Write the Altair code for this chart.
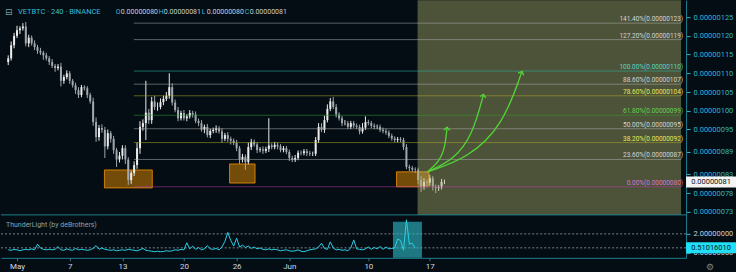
import altair as alt
import pandas as pd

# ---------------- data (prices in units of 1e-8 BTC) ----------------
close = [114, 117.5, 120, 121.5, 122, 122.5, 118, 119.5, 118, 117,
         116, 115.5, 114.8, 114, 113, 112, 111.4, 111.8, 108, 109,
         110, 108, 106.8, 105.5, 104.2, 106.3, 106, 104.2, 102.5, 97,
         93, 95.4, 94.9, 90.5, 94, 92.5, 89.5, 87, 88, 90,
         87, 81.5, 83.4, 85.5, 90, 95.7, 96.7, 99.5, 97.5, 102.5,
         101, 101, 102.3, 103.2, 104, 106.3, 102.2, 100.2, 98, 99.4,
         98, 98.5, 99.4, 99, 97.3, 96.7, 95, 95.7, 93.5, 94.6,
         94.9, 95.3, 94.5, 92.5, 93.5, 92.5, 92, 91.4, 90, 87,
         87.7, 86.3, 90.3, 91.7, 91, 89.5, 89.7, 89.3, 89.8, 90.7,
         90.3, 90.9, 90.5, 89.5, 90, 89, 87.4, 86.9, 87.4, 88.8,
         88.7, 89.2, 88.7, 88.5, 88.5, 92.2, 95.7, 94.9, 97.5, 100.5,
         102.5, 101, 99, 98, 96.7, 96.7, 95.7, 96.7, 96, 95.7,
         94.5, 95.5, 97, 96.7, 96, 95.7, 95.7, 94.9, 94.6, 94.2,
         93.3, 92.6, 92.2, 92.4, 92.2, 90.3, 85, 84.7, 84.3, 84.2,
         81.5, 79.7, 81, 80.8, 82, 79.7, 79.4, 79.6, 81, 81]
hi_wick = [0.8, 1.0, 0.8, 1.2, 0.6, 0.9, 1.2, 0.8, 0.6, 0.8,
           0.6, 0.8, 0.5, 0.7, 0.6, 0.8, 0.5, 0.7, 1.0, 0.6,
           0.8, 0.6, 0.5, 0.7, 0.8, 0.6, 0.5, 0.6, 0.6, 1.0,
           1.2, 0.8, 1.0, 0.8, 1.0, 0.6, 0.8, 0.6, 1.0, 0.8,
           0.8, 0.6, 0.6, 1.0, 1.5, 1.5, 1.0, 8.5, 1.0, 1.2,
           1.5, 1.2, 1.0, 0.8, 1.0, 3.7, 1.0, 0.8, 0.8, 0.6,
           0.8, 0.6, 0.8, 0.6, 0.8, 0.6, 0.8, 0.6, 0.8, 0.6,
           0.6, 0.8, 0.6, 0.8, 0.6, 0.8, 0.6, 0.6, 0.8, 0.6,
           0.8, 0.6, 1.2, 0.8, 0.6, 0.6, 0.6, 0.8, 0.6, 7.3,
           0.6, 0.8, 0.6, 0.6, 0.6, 0.6, 0.6, 0.6, 0.8, 0.6,
           0.6, 0.6, 0.6, 0.6, 0.6, 0.8, 1.0, 1.0, 1.2, 1.2,
           0.9, 1.2, 0.8, 0.6, 0.6, 0.8, 0.6, 0.6, 0.6, 0.6,
           0.6, 1.2, 1.5, 0.6, 0.6, 0.6, 0.6, 0.6, 0.6, 0.6,
           0.6, 0.6, 0.6, 0.6, 0.6, 0.6, 0.8, 0.6, 0.6, 0.6,
           0.6, 1.0, 1.0, 0.6, 0.9, 0.6, 0.6, 0.6, 0.8, 0.6]
lo_wick = [0.8, 0.6, 0.8, 0.6, 1.0, 0.6, 0.8, 1.0, 0.6, 0.8,
           0.8, 0.6, 1.2, 0.6, 0.8, 0.6, 1.0, 0.6, 1.5, 0.8,
           0.6, 0.8, 0.6, 1.0, 0.8, 0.6, 0.6, 0.8, 0.6, 1.0,
           1.3, 1.0, 0.8, 3.1, 0.8, 1.0, 1.0, 2.0, 0.8, 1.0,
           1.2, 1.3, 1.0, 0.8, 1.0, 1.5, 1.0, 4.5, 1.0, 1.0,
           0.8, 1.0, 0.6, 0.8, 0.6, 0.8, 0.8, 0.6, 0.8, 0.6,
           0.6, 0.8, 0.6, 0.8, 0.6, 0.8, 0.6, 1.0, 0.6, 0.8,
           0.6, 0.8, 0.6, 1.0, 0.6, 0.8, 1.0, 0.6, 0.8, 1.2,
           0.8, 2.1, 0.6, 0.8, 0.6, 0.8, 0.6, 0.8, 0.6, 0.8,
           0.6, 0.6, 0.8, 0.6, 0.6, 0.6, 0.8, 0.6, 0.6, 0.6,
           0.6, 0.6, 0.8, 0.6, 0.6, 0.6, 0.8, 0.6, 0.8, 0.6,
           0.6, 0.6, 0.8, 0.6, 0.8, 0.6, 0.6, 0.6, 0.6, 0.6,
           0.8, 0.6, 0.6, 0.6, 0.6, 0.6, 0.6, 0.6, 0.6, 0.6,
           0.6, 0.6, 0.6, 0.6, 0.6, 0.8, 0.6, 0.8, 0.6, 0.8,
           1.0, 1.4, 0.8, 1.0, 0.8, 1.0, 1.4, 0.8, 0.6, 0.6]
first_open = 113.0
first_day = -1.0          # days counted from May 1 (Apr 30)
bar_days = 1.0 / 3.0      # one candle per 8 hours

# ThunderLight indicator values
ind_vals = [0.3, 0.25, 0.35, 0.3, 0.2, 0.3, 0.35, 0.3, 0.4, 0.3,
            0.9, 0.5, 0.35, 0.3, 0.35, 0.3, 0.35, 0.65, 0.3, 0.25,
            0.4, 0.3, 0.25, 0.45, 0.3, 0.35, 0.3, 0.25, 0.3, 0.45,
            0.75, 0.35, 0.5, 0.35, 0.3, 0.25, 0.3, 0.2, 0.25, 0.3,
            0.25, 0.35, 0.3, 0.25, 0.2, 0.3, 0.45, 0.25, 0.2, 0.15,
            0.1, 0.15, 0.1, 0.12, 0.2, 0.15, 0.2, 0.3, 0.25, 0.35,
            0.3, 1.05, 0.4, 0.7, 0.35, 0.55, 0.3, 0.4, 0.75, 0.4,
            0.35, 0.45, 0.3, 0.6, 1.2, 2.15, 1.3, 0.7, 1.55, 0.6,
            0.8, 0.55, 0.7, 0.45, 0.6, 0.4, 0.5, 0.35, 0.3, 0.4,
            0.3, 0.35, 0.3, 0.2, 0.25, 0.3, 0.2, 0.15, 0.2, 0.3,
            0.15, 0.1, 0.2, 0.3, 0.35, 0.4, 0.6, 1.0, 0.45, 0.35,
            1.15, 0.5, 0.3, 0.35, 0.25, 0.3, 0.2, 0.5, 1.35, 0.4,
            0.35, 0.3, 0.4, 0.6, 0.35, 0.55, 0.4, 0.65, 0.35, 0.6,
            0.4, 0.45, 0.5, 1.45, 1.3, 0.25, 3.5, 0.9, 1.0, 0.51]
ind_ref_lines = [2.0, 0.51016010]
ind_last_val = 0.51016010
ind_last_text = "0.51016010"
ind_box_from, ind_box_to, ind_box_top = 42.8, 46.1, 3.28

# Fibonacci retracement
fib_labels = ["141.40%(0.00000123)", "127.20%(0.00000119)", "100.00%(0.00000110)",
              "88.60%(0.00000107)", "78.60%(0.00000104)", "61.80%(0.00000099)",
              "50.00%(0.00000095)", "38.20%(0.00000092)", "23.60%(0.00000087)",
              "0.00%(0.00000080)"]
fib_prices = [123.4, 119.0, 110.6, 107.1, 104.0, 98.8, 95.2, 91.5, 87.0, 79.7]
fib_line_colors = ["#a8a8a8", "#a8a8a8", "#2bb5a5", "#a8a8a8", "#a8a828",
                   "#2e9e2e", "#a8a8a8", "#a8a828", "#a8a8a8", "#b53cab"]
fib_text_colors = ["#d4d4d4", "#d4d4d4", "#55d6c4", "#d4d4d4", "#e8e858",
                   "#62d24e", "#d4d4d4", "#e8e858", "#d4d4d4", "#d877c8"]
fib_from_day = 13.3

x_min, x_max = -1.255, 75.6
price_domain = [60.73, 129.53]
ind_domain = [-0.553, 26.89]

box_from = [9.95, 24.2, 43.2]
box_to = [15.4, 27.1, 46.9]
box_top = [84.2, 85.8, 83.7]
box_bottom = [79.4, 80.7, 79.7]

zone_from = 45.6
zone_bottom = 72.2

arrow_ids = [1, 1, 1, 1, 2, 2, 2, 2, 3, 3, 3, 3]
arrow_days = [46.7, 48.05, 48.72, 48.95, 46.7, 49.73, 51.86, 53.09, 46.7, 51.41, 55.33, 57.46]
arrow_prices = [83.67, 86.33, 90.07, 95.4, 83.67, 86.87, 93.53, 104.2, 83.67, 87.4, 96.2, 110.33]
arrow_tip_angle = [4, 14, 22]

tick_days = [0, 6, 12, 19, 25, 31, 40, 47]
tick_labels = ["May", "7", "13", "20", "26", "Jun", "10", "17"]
price_ticks = [125, 120, 115, 110, 105, 100, 95, 89, 83, 78, 73]
ind_ticks = [0, 2]

last_price = close[-1]
last_price_text = "0.00000081"
header_symbol = "VETBTC · 240 · BINANCE"
ohlc_letters = ["O", "H", "L", "C"]
ohlc_values = ["0.00000080", "0.00000081", "0.00000080", "0.00000081"]
ind_title = "ThunderLight (by deBrothers)"

# ---------------- styling ----------------
BG = "#030d13"
TEAL = "#1f7f8f"
AXLAB = "#34b4cc"
FONT = "Roboto"

# ---------------- tables ----------------
n = len(close)
days = [first_day + i * bar_days for i in range(n)]
opens = [first_open] + close[:-1]
highs = [max(o, c) + w for o, c, w in zip(opens, close, hi_wick)]
lows = [min(o, c) - w for o, c, w in zip(opens, close, lo_wick)]
cols = ["#ececec" if c >= o else "#a2a8ad" for o, c in zip(opens, close)]
candles = pd.DataFrame(dict(day=days, open=opens, close=close, high=highs, low=lows, col=cols))

ind_df = pd.DataFrame(dict(day=days[:len(ind_vals)], v=ind_vals))
fib_df = pd.DataFrame(dict(label=fib_labels, p=fib_prices, lc=fib_line_colors, tc=fib_text_colors,
                           d0=[fib_from_day] * len(fib_prices), d1=[x_max] * len(fib_prices)))
box_df = pd.DataFrame(dict(d0=box_from, d1=box_to, p0=box_bottom, p1=box_top))
zone_df = pd.DataFrame(dict(d0=[zone_from], d1=[x_max], p0=[zone_bottom], p1=[price_domain[1]]))
arrow_df = pd.DataFrame(dict(aid=arrow_ids, day=arrow_days, p=arrow_prices))
tips = arrow_df.groupby("aid").tail(1).reset_index(drop=True)
tips["ang"] = arrow_tip_angle
last_df = pd.DataFrame(dict(p=[last_price], t=[last_price_text]))
ind_last_df = pd.DataFrame(dict(v=[ind_last_val], t=[ind_last_text]))
ind_lines_df = pd.DataFrame(dict(v=ind_ref_lines))
ind_box_df = pd.DataFrame(dict(d0=[ind_box_from], d1=[ind_box_to], v0=[ind_domain[0]], v1=[ind_box_top]))

# ---------------- encodings ----------------
xscale = alt.Scale(domain=[x_min, x_max], nice=False, zero=False)
label_expr = "[" + ",".join("'%s'" % t for t in tick_labels) + "][indexof([" + \
    ",".join(str(d) for d in tick_days) + "], datum.value)]"
xaxis = alt.Axis(values=tick_days, labelExpr=label_expr, title=None, grid=False,
                 tickSize=3, tickColor="#4a6e78", domainColor=TEAL, labelColor="#cfd9e3",
                 labelFontSize=8, labelFont=FONT, labelPadding=2, labelFlush=False)
pscale = alt.Scale(domain=price_domain, nice=False, zero=False)
paxis = alt.Axis(orient="right", values=price_ticks, title=None, grid=False,
                 labelExpr="'0.00000' + (datum.value < 100 ? '0' : '') + format(datum.value, 'd')",
                 tickSize=4, tickColor=AXLAB, domainColor=TEAL, labelColor=AXLAB,
                 labelFontSize=7.5, labelFont=FONT, labelPadding=3, labelOverlap=False)
iscale = alt.Scale(domain=ind_domain, nice=False, zero=False)
iaxis = alt.Axis(orient="right", values=ind_ticks, format=".8f", title=None, grid=False,
                 tickSize=4, tickColor=AXLAB, domain=False, labelColor="#c8d2da",
                 labelFontSize=7.5, labelFont=FONT, labelPadding=3, labelOverlap=False)


def X(f):
    return alt.X(f, type="quantitative", scale=xscale, axis=xaxis)


def P(f):
    return alt.Y(f, type="quantitative", scale=pscale, axis=paxis)


def I(f):
    return alt.Y(f, type="quantitative", scale=iscale, axis=iaxis)


# ---------------- price pane ----------------
boxes = alt.Chart(box_df).mark_rect(fill="#ff9800", fillOpacity=0.45, stroke="#ff9800",
                                    strokeOpacity=0.75, strokeWidth=1).encode(
    x=X("d0"), x2="d1", y=P("p0"), y2="p1")
wicks = alt.Chart(candles).mark_rule(strokeWidth=1).encode(
    x=X("day"), y=P("low"), y2="high", color=alt.Color("col:N", scale=None))
bodies = alt.Chart(candles).mark_bar(size=2).encode(
    x=X("day"), y=P("open"), y2="close", color=alt.Color("col:N", scale=None))
zone = alt.Chart(zone_df).mark_rect(fill="#b5b56e", fillOpacity=0.42).encode(
    x=X("d0"), x2="d1", y=P("p0"), y2="p1")
fib_lines = alt.Chart(fib_df).mark_rule(strokeWidth=1, opacity=0.55).encode(
    x=X("d0"), x2="d1", y=P("p"), color=alt.Color("lc:N", scale=None))
fib_text = alt.Chart(fib_df).mark_text(align="right", baseline="bottom", dy=-1,
                                       fontSize=6.5, font=FONT).encode(
    x=alt.value(683), y=P("p"), text="label:N", color=alt.Color("tc:N", scale=None))
arrows = alt.Chart(arrow_df).mark_line(interpolate="basis", color="#52d637", strokeWidth=1.3).encode(
    x=X("day"), y=P("p"), detail="aid:N")
heads = alt.Chart(tips).mark_point(shape="M-1,0.75L0,-0.25L1,0.75", filled=False, size=36,
                                    color="#52d637", strokeWidth=1.3, opacity=1).encode(
    x=X("day"), y=P("p"), angle=alt.Angle("ang:Q", scale=None))
sep = alt.Chart(zone_df).mark_rule(color=TEAL, strokeWidth=1).encode(y=P("p0"))
last_box = alt.Chart(last_df).mark_point(shape="M-1,-0.22L1,-0.22L1,0.22L-1,0.22Z", filled=True,
                                         size=2500, color="#f4f4f4", opacity=1).encode(
    x=alt.value(711), y=P("p"))
last_txt = alt.Chart(last_df).mark_text(fontSize=7.5, font=FONT, color="#0b1218").encode(
    x=alt.value(711), y=P("p"), text="t:N")

head_df = pd.DataFrame(dict(t=[header_symbol]))
icon = alt.Chart(pd.DataFrame(dict(t=["⊟"]))).mark_text(
    align="left", fontSize=9, font="DejaVu Sans", color="#6f9dac").encode(
    x=alt.value(4), y=alt.value(12), text="t:N")
head = alt.Chart(head_df).mark_text(align="left", fontSize=7.5, font=FONT, color="#38bcd8").encode(
    x=alt.value(17), y=alt.value(12), text="t:N")
ohlc_layers = []
for k, (lt, vt) in enumerate(zip(ohlc_letters, ohlc_values)):
    x0 = 115 + k * 43
    ohlc_layers.append(alt.Chart(pd.DataFrame(dict(t=[lt]))).mark_text(
        align="left", fontSize=7, font=FONT, color="#38bcd8").encode(
        x=alt.value(x0), y=alt.value(12), text="t:N"))
    ohlc_layers.append(alt.Chart(pd.DataFrame(dict(t=[vt]))).mark_text(
        align="left", fontSize=7, font=FONT, color="#c9d1d6").encode(
        x=alt.value(x0 + 5), y=alt.value(12), text="t:N"))

price_pane = alt.layer(boxes, wicks, bodies, zone, fib_lines, fib_text, arrows, heads, sep,
                       last_box, last_txt, icon, head, *ohlc_layers)

# ---------------- indicator pane ----------------
ind_lines = alt.Chart(ind_lines_df).mark_rule(color="#7d858b", strokeWidth=1, strokeDash=[2, 2]).encode(
    y=I("v"))
ind_box = alt.Chart(ind_box_df).mark_rect(fill="#2fc0cc", fillOpacity=0.6).encode(
    x=X("d0"), x2="d1", y=I("v0"), y2="v1")
ind_line = alt.Chart(ind_df).mark_line(color="#2ccfe6", strokeWidth=1).encode(
    x=X("day"), y=I("v"))
ind_badge = alt.Chart(ind_last_df).mark_point(shape="M-1,-0.22L1,-0.22L1,0.22L-1,0.22Z", filled=True,
                                              size=2500, color="#1fe0f6", opacity=1).encode(
    x=alt.value(711), y=I("v"))
ind_badge_txt = alt.Chart(ind_last_df).mark_text(fontSize=7.5, font=FONT, color="#0b1218").encode(
    x=alt.value(711), y=I("v"), text="t:N")
ind_name = alt.Chart(pd.DataFrame(dict(t=[ind_title]))).mark_text(
    align="left", fontSize=7, font=FONT, color="#86a4ae").encode(
    x=alt.value(5), y=alt.value(225), text="t:N")
gear = alt.Chart(pd.DataFrame(dict(t=["⚙"]))).mark_text(
    fontSize=9, font="DejaVu Sans", color="#7d878e").encode(
    x=alt.value(710), y=alt.value(267), text="t:N")

ind_pane = alt.layer(ind_lines, ind_box, ind_line, ind_badge, ind_badge_txt, ind_name, gear)

chart = alt.layer(price_pane, ind_pane).resolve_scale(y="independent").properties(
    width=686, height=258, padding=0, autosize=alt.AutoSizeParams(type="pad"),
    background=BG
).configure_view(stroke=None)

chart.save("out.html", embed_options={"renderer": "svg", "actions": False})
